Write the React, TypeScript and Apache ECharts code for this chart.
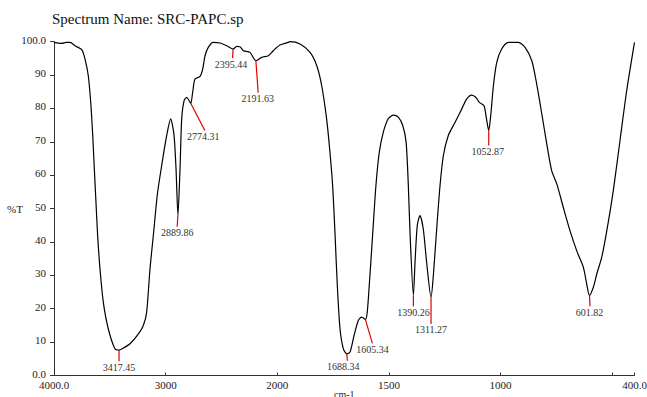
import React, { useEffect, useRef } from "react";
import * as echarts from "echarts";

// Spectrum (wavenumber cm-1, %T)
const wavenumbers: number[] = [
  4000, 3960, 3931, 3890, 3857, 3812, 3752, 3722, 3693, 3671, 3653, 3639, 3624, 3609, 3588, 3558, 3514, 3454,
  3417.45, 3364, 3319, 3254, 3200, 3170, 3140, 3110, 3075, 3035, 2990, 2955, 2925, 2907, 2889.86, 2871, 2856,
  2835, 2811, 2788, 2774.31, 2758, 2737, 2692, 2668, 2647, 2618, 2573, 2513, 2453, 2395.44, 2363, 2334, 2304,
  2244, 2191.63, 2139, 2080, 2036, 1988, 1951, 1943, 1898, 1853, 1823, 1801, 1779, 1764, 1752, 1741, 1731,
  1719, 1704, 1688.34, 1674, 1656, 1637, 1622, 1605.34, 1597, 1588, 1573, 1558, 1543, 1525, 1503, 1480, 1458,
  1438, 1423, 1413, 1405, 1390.26, 1383, 1373, 1361, 1346, 1331, 1311.27, 1301, 1286, 1271, 1256, 1234, 1204,
  1174, 1152, 1129, 1110, 1095, 1074, 1065, 1052.87, 1044, 1032, 1017, 995, 965, 920, 890, 860, 838, 815, 793,
  771, 748, 719, 689, 659, 629, 614, 601.82, 584, 569, 547, 524, 495, 465, 435, 400,
];
const transmittance: number[] = [
  99.8, 99.6, 99.5, 99.8, 99.8, 98.8, 97.6, 94.8, 89.8, 81.8, 71.9, 62, 51.9, 41.9, 31.9, 21.9, 14, 8,
  7.6, 8.5, 9.5, 12, 15, 19, 32, 42, 54, 63, 72, 76.9, 72, 62, 48, 62, 76.9,
  82.3, 83.3, 82.3, 81.5, 84.8, 88.8, 89.6, 91.8, 95.8, 98.3, 99.8, 99.6, 98.8, 97.8, 98.6, 98.5, 97.3,
  96.8, 94.3, 95.3, 95.8, 97.3, 99, 99.8, 100, 99.3, 96.8, 92.8, 86.8, 76.9, 66.9, 56.9, 41.9, 26.9,
  14, 8, 6.5, 7, 12, 16.5, 17.5, 16.8, 19, 27, 42, 57, 66.9, 72.9, 76.9, 78, 77.4,
  74.9, 69.9, 57, 42, 24, 33.9, 44.9, 47.9, 43.9, 33.9, 23.4, 29.9, 43.9, 56.9, 65.9, 71.9, 75.8,
  79.8, 82.8, 84, 83.3, 81.8, 80.8, 77.8, 73.4, 77.8, 86.8, 93.8, 97.8, 99.8, 99.8, 98.3, 94.3, 87.3, 78.3, 69.4,
  61.4, 57.4, 50.4, 43.4, 37.4, 32.4, 27.4, 24, 26.5, 30.4, 35.4, 43.4, 55.4, 70.4, 85.3, 99.8,
];

// Labelled peaks
const peakWavenumbers: number[] = [3417.45, 2889.86, 2774.31, 2395.44, 2191.63, 1688.34, 1605.34, 1390.26, 1311.27, 1052.87, 601.82];
const peakTransmittance: number[] = [7.6, 48, 81.5, 97.8, 94.3, 6.5, 16.8, 24, 23.4, 73.4, 24];
const peakLabels: string[] = ["3417.45", "2889.86", "2774.31", "2395.44", "2191.63", "1688.34", "1605.34", "1390.26", "1311.27", "1052.87", "601.82"];

// Axis ticks
const xTickWavenumbers: number[] = [4000, 3000, 2000, 1500, 1000, 500, 400];
const xTickLabels: string[] = ["4000.0", "3000", "2000", "1500", "1000", "", "400.0"];
const yTickValues: number[] = [0, 10, 20, 30, 40, 50, 60, 70, 80, 90, 100];
const yTickLabels: string[] = ["0.0", "10", "20", "30", "40", "50", "60", "70", "80", "90", "100.0"];

// Leader-line layout (pixels): [dx, dy, labelDx]
const leaderLayout: number[][] = [
  [0, 11, 0], [-0.8, 11.5, 0], [14, 27, -1.5], [-0.6, 9, -1.5], [2.3, 32, -0.5], [0.5, 7, -4],
  [7, 24, 0], [0, 11, 0], [0, 26.5, 0], [0, 15, -1], [0.6, 11, -0.5],
];

// Instrument-style split scale: 4000-2000 compressed, 2000-400 expanded x2
const toU = (w: number) => (w >= 2000 ? 4000 - w : 2000 + (2000 - w) * 2);

const SERIF = '"Liberation Serif", "Times New Roman", serif';

export default function App() {
  const ref = useRef<HTMLDivElement>(null);
  useEffect(() => {
    if (!ref.current) return;
    const chart = echarts.init(ref.current, undefined, { renderer: "svg" });
    const lineData = wavenumbers.map((w, i) => [toU(w), transmittance[i]]);
    const peakData = peakWavenumbers.map((w, i) => [toU(w), peakTransmittance[i], i]);
    const xU = xTickWavenumbers.map(toU);
    const labelFor = (v: number) => {
      const i = xU.findIndex((u) => Math.abs(u - v) < 1e-6);
      return i >= 0 ? xTickLabels[i] : "";
    };
    chart.setOption({
      animation: false,
      backgroundColor: "#ffffff",
      grid: { left: 54, right: 12.5, top: 41.7, bottom: 21.5, containLabel: false, outerBoundsMode: "none" },
      graphic: [
        {
          type: "text",
          left: 52,
          top: 11,
          style: { text: "Spectrum Name: SRC-PAPC.sp", font: `15px ${SERIF}`, fill: "#111" },
        },
      ],
      xAxis: {
        type: "value",
        min: 0,
        max: 5200,
        name: "cm-1",
        nameLocation: "middle",
        nameGap: 14,
        nameMoveOverlap: false,
        nameTextStyle: { fontFamily: SERIF, fontSize: 10, color: "#222" },
        axisLine: { lineStyle: { color: "#333", width: 1 } },
        axisTick: { inside: true, length: 3, customValues: xU, lineStyle: { color: "#333" } },
        axisLabel: {
          customValues: xU.filter((_, i) => xTickLabels[i] !== ""),
          formatter: (v: number) => labelFor(v),
          fontFamily: SERIF,
          fontSize: 11,
          color: "#222",
          margin: 4,
        },
        splitLine: { show: false },
      },
      yAxis: {
        type: "value",
        min: 0,
        max: 100,
        interval: 10,
        name: "%T",
        nameLocation: "middle",
        nameRotate: 0,
        nameGap: 31,
        nameMoveOverlap: false,
        nameTextStyle: { fontFamily: SERIF, fontSize: 11, color: "#222" },
        axisLine: { show: true, lineStyle: { color: "#333", width: 1 } },
        axisTick: { show: true, length: 4, lineStyle: { color: "#333" } },
        axisLabel: {
          formatter: (v: number) => {
            const i = yTickValues.indexOf(v);
            return i >= 0 ? yTickLabels[i] : "";
          },
          fontFamily: SERIF,
          fontSize: 11,
          color: "#222",
          margin: 8,
          verticalAlign: "bottom",
          lineHeight: 4,
        },
        splitLine: { show: false },
      },
      series: [
        {
          type: "line",
          data: lineData,
          showSymbol: false,
          smooth: 0.25,
          lineStyle: { color: "#000", width: 1.2 },
          z: 2,
        },
        {
          type: "custom",
          data: peakData,
          z: 3,
          renderItem: (params: any, api: any) => {
            const p = api.coord([api.value(0), api.value(1)]);
            const idx = api.value(2);
            const [dx, dy, ldx] = leaderLayout[idx];
            const ex = p[0] + dx;
            const ey = p[1] + dy;
            return {
              type: "group",
              children: [
                {
                  type: "line",
                  shape: { x1: p[0], y1: p[1], x2: ex, y2: ey },
                  style: { stroke: "#e00000", lineWidth: 1.2 },
                },
                {
                  type: "text",
                  style: {
                    text: peakLabels[idx],
                    x: ex + ldx,
                    y: ey + 1,
                    align: "center",
                    verticalAlign: "top",
                    font: `10px ${SERIF}`,
                    fill: "#333",
                  },
                },
              ],
            };
          },
        },
      ],
    });
    return () => chart.dispose();
  }, []);
  return (
    <div
      ref={ref}
      style={{ position: "absolute", left: 0, top: 0, width: 647, height: 397, background: "#fff" }}
    />
  );
}
